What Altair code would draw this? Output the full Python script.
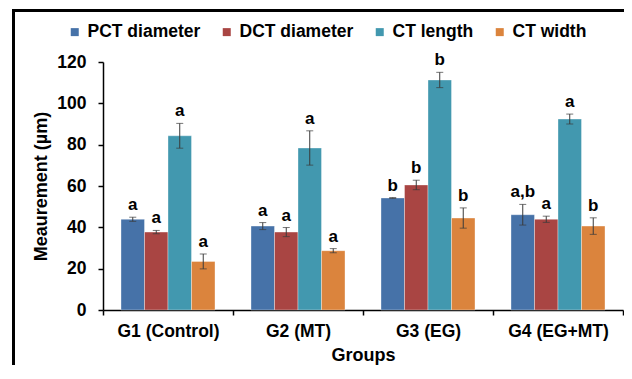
import altair as alt
import pandas as pd

groups = ["G1 (Control)", "G2 (MT)", "G3 (EG)", "G4 (EG+MT)"]
series = ["PCT diameter", "DCT diameter", "CT length", "CT width"]
colors = ["#4672A8", "#A94543", "#4298AF", "#DB843D"]

values = {
    "PCT diameter": [43.9, 40.6, 54.2, 46.1],
    "DCT diameter": [37.7, 37.7, 60.5, 43.9],
    "CT length": [84.3, 78.4, 111.3, 92.4],
    "CT width": [23.5, 28.7, 44.5, 40.6],
}
errors = {
    "PCT diameter": [1.0, 1.7, 0.2, 5.0],
    "DCT diameter": [0.8, 2.2, 2.3, 1.5],
    "CT length": [6.0, 8.3, 3.7, 2.4],
    "CT width": [3.6, 1.0, 4.9, 4.0],
}
letters = {
    "PCT diameter": ["a", "a", "b", "a,b"],
    "DCT diameter": ["a", "a", "b", "a"],
    "CT length": ["a", "a", "b", "a"],
    "CT width": ["a", "a", "b", "b"],
}

rows = []
for s in series:
    for i, g in enumerate(groups):
        rows.append({"group": g, "series": s, "value": values[s][i],
                     "err": errors[s][i], "letter": letters[s][i]})
df = pd.DataFrame(rows)

FONT = "Liberation Sans"
FS = 17.5

x_enc = alt.X("group:N", sort=groups, title="Groups",
              scale=alt.Scale(paddingInner=0, paddingOuter=0),
              axis=alt.Axis(labelAngle=0, tickBand="extent", labelFontSize=FS,
                            labelFontWeight="bold", titleFontSize=18,
                            titleFontWeight="bold", labelPadding=7,
                            titlePadding=7, domainColor="black",
                            domainWidth=1.5, tickColor="black", tickWidth=1.5,
                            tickSize=5, labelColor="black", titleColor="black"))
xo_enc = alt.XOffset("series:N", sort=series,
                     scale=alt.Scale(paddingOuter=0.766, paddingInner=0))
y_scale = alt.Scale(domain=[0, 120], nice=False)

base = alt.Chart(df).encode(x=x_enc, xOffset=xo_enc)

bars = base.mark_bar(stroke="white", strokeOpacity=0.35, strokeWidth=1).encode(
    y=alt.Y("value:Q", scale=y_scale, title="Meaurement (µm)",
            axis=alt.Axis(values=list(range(0, 121, 20)), grid=False,
                          labelFontSize=FS, labelFontWeight="bold",
                          titleFontSize=18, titleFontWeight="bold",
                          labelPadding=12, titlePadding=6, domainColor="black",
                          domainWidth=1.5, tickColor="black", tickWidth=1.5,
                          tickSize=5, labelColor="black", titleColor="black")),
    color=alt.Color("series:N", sort=series,
                    scale=alt.Scale(domain=series, range=colors),
                    legend=alt.Legend(title=None, orient="none", direction="horizontal",
                                      legendX=-37, legendY=-39,
                                      symbolType="square", symbolSize=64,
                                      symbolStrokeWidth=0, labelFontSize=FS,
                                      labelFontWeight="bold", labelColor="black",
                                      labelOffset=4, columnPadding=17)),
)

eb = base.transform_calculate(lo="datum.value - datum.err", hi="datum.value + datum.err")
err_rule = eb.mark_rule(color="#3a3a3a", strokeWidth=1).encode(
    y=alt.Y("lo:Q", scale=y_scale), y2="hi:Q")
cap_lo = eb.mark_tick(color="#3a3a3a", thickness=1, size=7, orient="horizontal").encode(
    y=alt.Y("lo:Q", scale=y_scale))
cap_hi = eb.mark_tick(color="#3a3a3a", thickness=1, size=7, orient="horizontal").encode(
    y=alt.Y("hi:Q", scale=y_scale))

labels = eb.mark_text(baseline="bottom", dy=-3, fontSize=17, fontWeight="bold",
                      color="black").encode(
    y=alt.Y("hi:Q", scale=y_scale), text="letter:N")

one = pd.DataFrame({"k": [0]})
frame_left = alt.Chart(one).mark_rule(color="black", strokeWidth=3).encode(
    x=alt.value(-89.5), y=alt.value(-53), y2=alt.value(303))
frame_top = alt.Chart(one).mark_rule(color="black", strokeWidth=3).encode(
    x=alt.value(-91), x2=alt.value(521), y=alt.value(-51.5))

chart = alt.layer(bars, err_rule, cap_lo, cap_hi, labels, frame_left, frame_top).properties(
    width=520, height=248,
    autosize=alt.AutoSizeParams(type="none"),
    padding={"left": 95, "top": 54, "right": 1, "bottom": 55},
).configure(font=FONT).configure_view(stroke=None)

chart.save("out.html", embed_options={"renderer": "svg", "actions": False})
